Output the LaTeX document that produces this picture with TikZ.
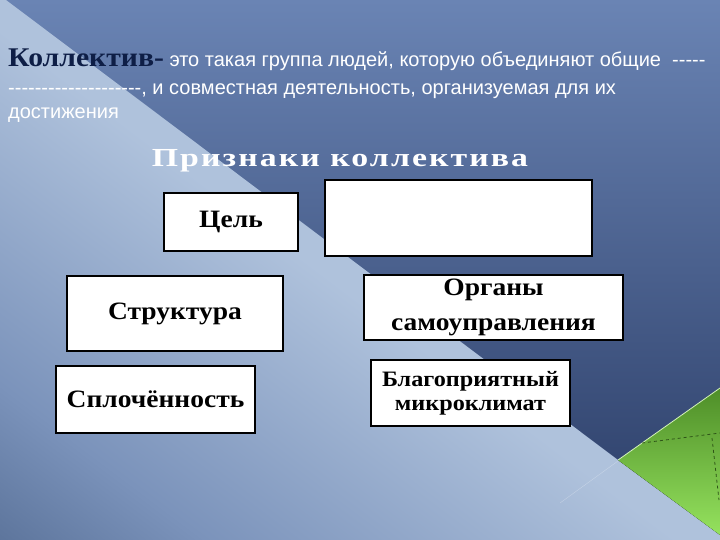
\documentclass[tikz,border=0pt]{standalone}
\usepackage{fontspec}
\setmainfont[Ligatures=TeXOff]{Liberation Sans}
\newfontfamily\signfont[FakeStretch=1.1]{Liberation Serif}
\newfontfamily\headfont[FakeStretch=1.3, LetterSpace=8]{Liberation Serif}
\usetikzlibrary{positioning}
\definecolor{bgtop}{HTML}{6A84B4}
\definecolor{bgbot}{HTML}{2A3C66}
\definecolor{wedgelight}{HTML}{AFC2DC}
\definecolor{wedgemid}{HTML}{7B93BB}
\definecolor{wedgedark}{HTML}{3A5278}
\definecolor{leafdark}{HTML}{4E8E28}
\definecolor{leaflight}{HTML}{95E25E}
\definecolor{navyink}{HTML}{0E1E46}
\pgfdeclareverticalshading{wedgefade}{100bp}{color(0bp)=(wedgedark); color(3bp)=(wedgedark); color(25bp)=(wedgemid); color(48bp)=(wedgelight); color(100bp)=(wedgelight)}
\tikzstyle{sign} = [rectangle, draw=black, line width=2.4pt, fill=white, text centered, align=center, inner sep=0pt, font=\signfont\bfseries\fontsize{25}{35}\selectfont]
\tikzstyle{plain} = [anchor=base west, inner sep=0pt, text=white, font=\fontsize{20}{24}\selectfont]

\begin{document}
\begin{tikzpicture}[x=1pt, y=-1pt]
\useasboundingbox (0,0) rectangle (720,540);

% background
\fill[top color=bgtop, bottom color=bgbot] (0,0) rectangle (720,540);
\shade[shading=wedgefade, shading angle=-37]
  (0,0) -- (6,0) -- (618,460) -- (720,535) -- (720,540) -- (0,540) -- cycle;
\fill[top color=leafdark, bottom color=leaflight] (618,460) -- (720,388) -- (720,535) -- cycle;
\draw[white!60!leaflight, line width=0.8pt] (618,460) -- (720,388);
\draw[white, opacity=0.3] (560,503) -- (618,461);
\draw[leafdark!60!black, dashed, line width=0.8pt] (642,443) -- (720,433);
\draw[leafdark!60!black, dashed, line width=0.8pt] (712,438) -- (719,500);

% definition
\node (lead) [plain] at (8,67) {{\signfont\bfseries\fontsize{27}{30}\selectfont\color{navyink}Коллектив-} это такая группа людей, которую объединяют общие\ \ -----};
\node (lead2) [plain] at (8,95) {--------------------, и совместная деятельность, организуемая для их};
\node (lead3) [plain] at (8,119) {достижения};

\node (title) [anchor=base, inner sep=0pt, text=white, font=\headfont\bfseries\fontsize{26}{30}\selectfont] at (340,167) {Признаки коллектива};

% signs
\node (goal) [sign, minimum width=134, minimum height=58] at (231,222) {Цель};
\node (blank) [sign, minimum width=267, minimum height=76] at (458.5,218) {};
\node (struct) [sign, minimum width=216, minimum height=75] at (175,313.5) {Структура};
\node (organs) [sign, minimum width=259, minimum height=65] at (493.5,307.5) {Органы\\самоуправления};
\node (unity) [sign, minimum width=199, minimum height=67] at (155.5,399.5) {Сплочённость};
\node (climate) [sign, minimum width=199, minimum height=66, font=\signfont\bfseries\fontsize{22}{24}\selectfont] at (470.5,393) {Благоприятный\\микроклимат};

\end{tikzpicture}
\end{document}
